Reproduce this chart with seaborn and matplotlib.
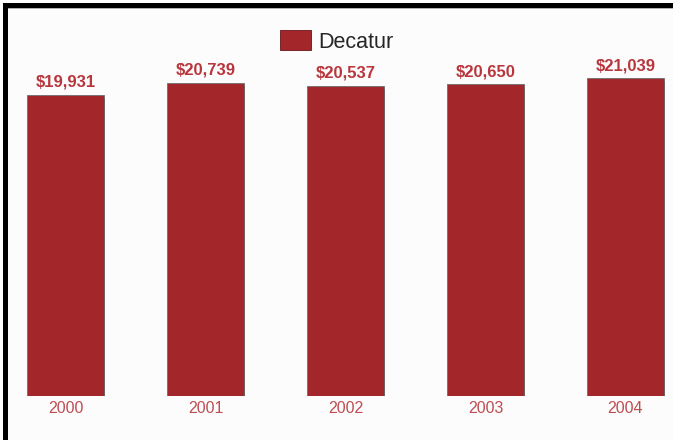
import matplotlib
matplotlib.use("Agg")
import matplotlib.pyplot as plt
import matplotlib.patheffects as pe
from matplotlib.patches import Rectangle
import seaborn as sns
import pandas as pd

years = ["2000", "2001", "2002", "2003", "2004"]
income = [19931, 20739, 20537, 20650, 21039]
city = "Decatur"

bar_color = "#A3262B"
label_color = "#B8363C"
year_color = "#BE4C52"
bg = "#FCFCFC"

sns.set_theme(style="white")
plt.rcParams["font.family"] = ["Liberation Sans", "DejaVu Sans"]

df = pd.DataFrame({"year": years, "income": income, "city": city})

fig = plt.figure(figsize=(6.73, 4.40), dpi=100, facecolor=bg)
ax = fig.add_axes([0, 44 / 440, 1, 396 / 440])
ax.set_facecolor(bg)

sns.barplot(data=df, x="year", y="income", hue="city", palette=[bar_color],
            width=0.55, dodge=False, saturation=1, legend=False, ax=ax,
            edgecolor="#6E6E6E", linewidth=0.6)

for p in ax.patches:
    p.set_path_effects([
        pe.SimplePatchShadow(offset=(0.8, -2.2), shadow_rgbFace="#4A0C0E", alpha=0.95),
        pe.Normal(),
    ])

for i, v in enumerate(income):
    ax.annotate(f"${v:,}", xy=(i, v), xytext=(0, 5.8), textcoords="offset points",
                ha="center", va="baseline", fontsize=12, fontweight="bold",
                color=label_color)

ax.set_xlim(-65.5 / 140, (673 - 65.5) / 140)
ax.set_ylim(0, 396 / 301 * income[0])
ax.set_xlabel("")
ax.set_ylabel("")
ax.set_yticks([])
ax.tick_params(axis="x", length=0, pad=3.5, labelsize=11.5, labelcolor=year_color)
for s in ax.spines.values():
    s.set_visible(False)

# legend
handle = Rectangle((0, 0), 1, 1, facecolor=bar_color, edgecolor="#6A1418", linewidth=0.6)
fig.legend([handle], [city], loc="center", bbox_to_anchor=(0.5, 1 - 41.5 / 440),
           frameon=False, fontsize=15.5, handlelength=1.43, handleheight=1.0,
           handletextpad=0.33, borderpad=0)

# frame lines along the top and left edges
fig.add_artist(Rectangle((0, 0), 3 / 673, 1, transform=fig.transFigure,
                         facecolor="white", edgecolor="none", zorder=5))
fig.add_artist(Rectangle((3 / 673, 1 - 8 / 440), 1, 5 / 440, transform=fig.transFigure,
                         facecolor="black", edgecolor="none", zorder=6))
fig.add_artist(Rectangle((3 / 673, 0), 5 / 673, 1 - 3 / 440, transform=fig.transFigure,
                         facecolor="black", edgecolor="none", zorder=6))
fig.add_artist(Rectangle((8 / 673, 1 - 9.5 / 440), 1, 1.2 / 440, transform=fig.transFigure,
                         facecolor="#B0B0B0", edgecolor="none", zorder=6))
fig.add_artist(Rectangle((0, 1 - 3 / 440), 1, 3 / 440, transform=fig.transFigure,
                         facecolor="white", edgecolor="none", zorder=5))

fig.savefig("out.png", dpi=100, facecolor=bg)
